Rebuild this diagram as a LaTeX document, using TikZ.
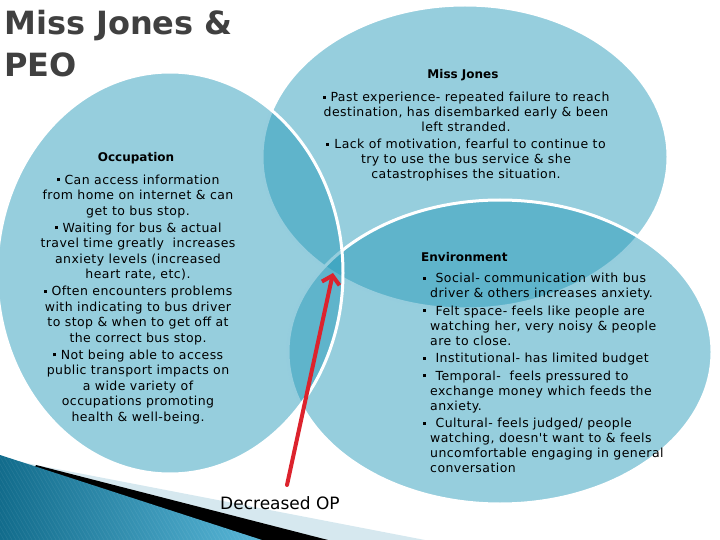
\documentclass[tikz,border=0pt]{standalone}
\usepackage{fontspec}
\setmainfont{DejaVu Sans}
\newfontfamily\bodyfont{DejaVu Sans}[LetterSpace=3.5]
\usetikzlibrary{arrows.meta,positioning}

\definecolor{vennblue}{RGB}{35,152,184}
\definecolor{titlegray}{RGB}{64,64,64}
\definecolor{arrowred}{RGB}{220,35,45}
\definecolor{bandlight}{RGB}{214,232,239}
\definecolor{banddark}{RGB}{18,108,140}
\definecolor{bandmid}{RGB}{88,182,215}

\tikzset{
  venn/.style={fill=vennblue, fill opacity=0.48, draw=white, line width=3pt},
  heading/.style={font=\fontsize{12}{14}\bfseries\selectfont, inner sep=0pt},
  bodytext/.style={font=\bodyfont\fontsize{12.5}{15}\selectfont, inner sep=0pt},
  oparrow/.style={arrowred, line width=4pt, line cap=round,
    -{Straight Barb[length=8pt, width=18pt]}},
}

\newcommand{\sqb}{\rule[3pt]{3pt}{3pt}\hspace{5pt}}
\newcommand{\ind}{\hspace*{7pt}}

\begin{document}
\begin{tikzpicture}[x=1pt, y=-1pt]
  \useasboundingbox (0,0) rectangle (720,540);

  % corner bands
  \fill[bandlight] (0,458) -- (425,540) -- (0,540) -- cycle;
  \fill[black] (36,465) -- (328,540) -- (0,540) -- cycle;
  \shade[left color=banddark, right color=bandmid] (0,455) -- (262,540) -- (0,540) -- cycle;
  \begin{scope}
    \clip (0,455) -- (262,540) -- (0,540) -- cycle;
    \foreach \s in {-60,-56,...,270}
      \draw[white, opacity=0.07, line width=0.6pt] (\s,450) -- ++(55,95);
  \end{scope}

  % the three sets
  \path[venn] (465,157) ellipse [x radius=203pt, y radius=152pt];
  \path[venn] (500,352) ellipse [x radius=212pt, y radius=152pt];
  \path[venn] (170,273) ellipse [x radius=173pt, y radius=201pt];

  % title
  \node[anchor=north west, align=left, inner sep=0pt, text=titlegray,
    font=\fontsize{32}{42}\bfseries\selectfont] (title) at (4,10) {Miss Jones \&\\PEO};

  % Occupation
  \node[heading] (occhead) at (136,158) {Occupation};
  \node[bodytext, align=center, font=\bodyfont\fontsize{12.5}{15.5}\selectfont]
    (occtext) at (138,299.5) {%
    \sqb Can access information\\
    from home on internet \& can\\
    get to bus stop.\\[1.5pt]
    \sqb Waiting for bus \& actual\\
    travel time greatly\ \ increases\\
    anxiety levels (increased\\
    heart rate, etc).\\[1.5pt]
    \sqb Often encounters problems\\
    with indicating to bus driver\\
    to stop \& when to get off at\\
    the correct bus stop.\\[1.5pt]
    \sqb Not being able to access\\
    public transport impacts on\\
    a wide variety of\\
    occupations promoting\\
    health \& well-being.};

  % Miss Jones
  \node[heading] (joneshead) at (463,75) {Miss Jones};
  \node[bodytext, align=center] (jonestext) at (466,137) {%
    \sqb Past experience- repeated failure to reach\\
    destination, has disembarked early \& been\\
    left stranded.\\[2pt]
    \sqb Lack of motivation, fearful to continue to\\
    try to use the bus service \& she\\
    catastrophises the situation.};

  % Environment
  \node[heading, anchor=west] (envhead) at (421,257) {Environment};
  \node[bodytext, align=left, anchor=west] (envtext) at (423,373) {%
    \sqb\ Social- communication with bus\\
    \ind driver \& others increases anxiety.\\[2.5pt]
    \sqb\ Felt space- feels like people are\\
    \ind watching her, very noisy \& people\\
    \ind are to close.\\[2.5pt]
    \sqb\ Institutional- has limited budget\\[2.5pt]
    \sqb\ Temporal-\ \ feels pressured to\\
    \ind exchange money which feeds the\\
    \ind anxiety.\\[2.5pt]
    \sqb\ Cultural- feels judged/ people\\
    \ind watching, doesn't want to \& feels\\
    \ind uncomfortable engaging in general\\
    \ind conversation};

  % decreased OP
  \node[font=\fontsize{17}{20}\selectfont, inner sep=0pt] (decr) at (280,503) {Decreased OP};
  \coordinate (optail) at (287,485);
  \coordinate (optip) at (333,273);
  \draw[oparrow] (optail) -- (optip);
\end{tikzpicture}
\end{document}
